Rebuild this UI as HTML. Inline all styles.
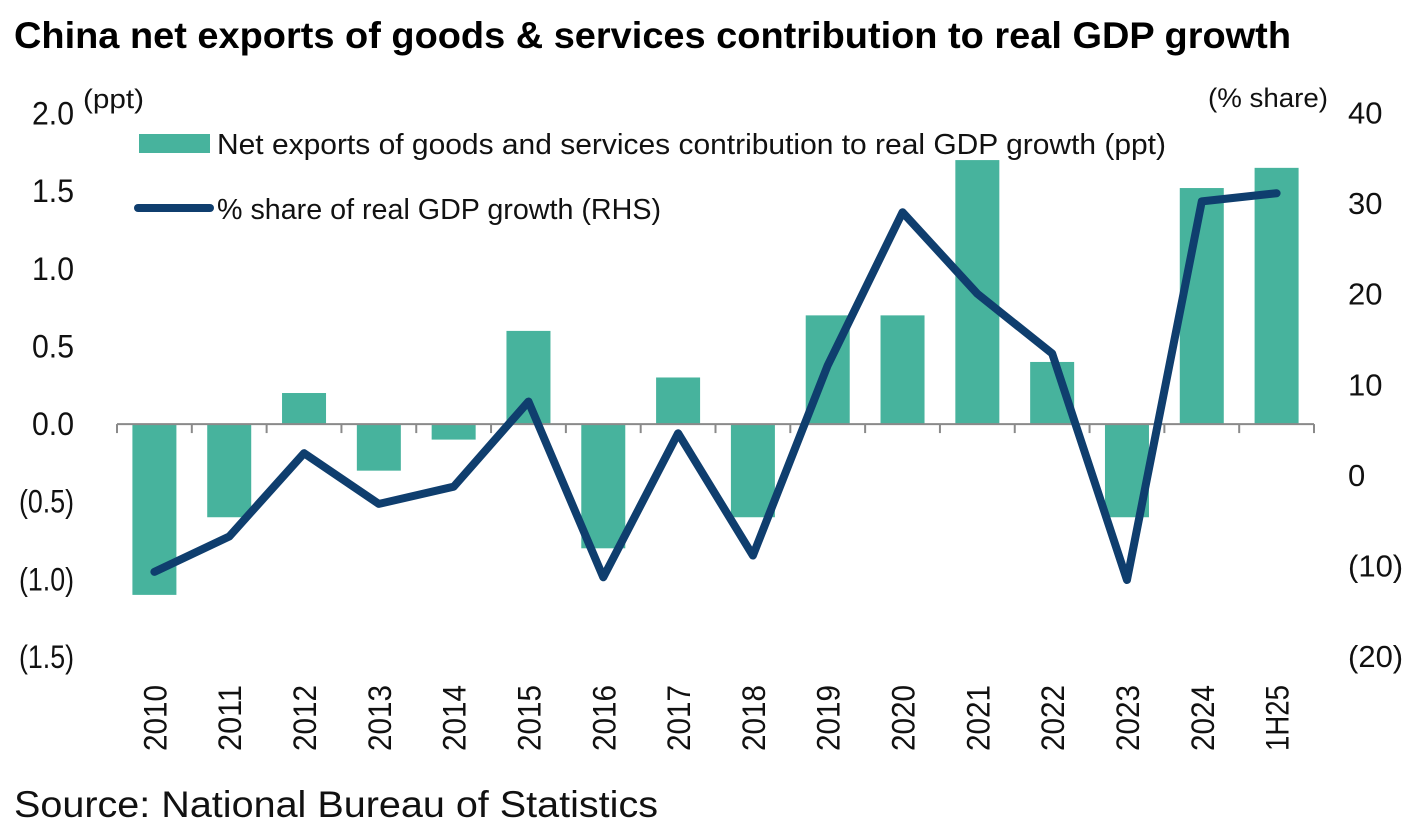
<!DOCTYPE html>
<html>
<head>
<meta charset="utf-8">
<style>
html,body{margin:0;padding:0;background:#fff;width:1406px;height:829px;overflow:hidden}
svg{display:block}
text{font-family:"Liberation Sans",sans-serif;fill:#111}
</style>
</head>
<body>
<svg id="chart" width="1406" height="829" viewBox="0 0 1406 829" xmlns="http://www.w3.org/2000/svg">
<text x="14" y="48" font-size="37" font-weight="700" textLength="1277" lengthAdjust="spacingAndGlyphs" style="fill:#000">China net exports of goods &amp; services contribution to real GDP growth</text>
<text x="83" y="108" font-size="27" textLength="61" lengthAdjust="spacingAndGlyphs">(ppt)</text>
<text x="1208" y="107" font-size="27" textLength="120" lengthAdjust="spacingAndGlyphs">(% share)</text>
<g id="bars"></g>
<g id="axis"></g>
<g id="left-ticks"></g>
<g id="right-ticks"></g>
<g id="line"></g>
<rect x="139" y="134" width="71" height="19" fill="#47b39d"/>
<text x="217" y="154" font-size="29" textLength="949" lengthAdjust="spacingAndGlyphs">Net exports of goods and services contribution to real GDP growth (ppt)</text>
<line x1="138" y1="208" x2="210" y2="208" stroke="#0f3e6e" stroke-width="8" stroke-linecap="round"/>
<text x="217" y="219" font-size="29" textLength="444" lengthAdjust="spacingAndGlyphs">% share of real GDP growth (RHS)</text>
<text x="14" y="817" font-size="37" textLength="644" lengthAdjust="spacingAndGlyphs">Source: National Bureau of Statistics</text>
</svg>
<script>
var categories = ['2010','2011','2012','2013','2014','2015','2016','2017','2018','2019','2020','2021','2022','2023','2024','1H25'];
var netExports = [-1.1,-0.6,0.2,-0.3,-0.1,0.6,-0.8,0.3,-0.6,0.7,0.7,1.7,0.4,-0.6,1.52,1.65];
var shareOfGrowth = [-10.6,-6.7,2.5,-3.1,-1.2,8.2,-11.2,4.7,-8.8,12.2,29.1,20.1,13.5,-11.5,30.3,31.2];
var leftTicks = [2,1.5,1,0.5,0,-0.5,-1,-1.5];
var rightTicks = [40,30,20,10,0,-10,-20];

var NS = 'http://www.w3.org/2000/svg';
var plotLeft = 117, plotRight = 1314, plotTop = 113.5, plotBottom = 657;
function xBand(i){ return plotLeft + (plotRight - plotLeft) / categories.length * i; }
function xCenter(i){ return xBand(i + 0.5); }
function yLeft(v){ return plotTop + (2 - v) / 3.5 * (plotBottom - plotTop); }
function yRight(v){ return plotTop + (40 - v) / 60 * (plotBottom - plotTop); }
function fmtLeft(v){ var s = Math.abs(v).toFixed(1); return v < 0 ? '(' + s + ')' : s; }
function fmtRight(v){ return v < 0 ? '(' + Math.abs(v) + ')' : String(v); }
function mk(tag, attrs, parent){
  var el = document.createElementNS(NS, tag);
  for (var k in attrs) el.setAttribute(k, attrs[k]);
  parent.appendChild(el);
  return el;
}

var barsG = document.getElementById('bars');
netExports.forEach(function(v, i){
  var y0 = yLeft(0), y1 = yLeft(v);
  var r = mk('rect', {x: xCenter(i) - 22, y: Math.min(y0, y1), width: 44, height: Math.abs(y1 - y0), fill: '#47b39d'}, barsG);
  
  
});

var axisG = document.getElementById('axis');
var base = mk('line', {x1: plotLeft, x2: plotRight, y1: yLeft(0), y2: yLeft(0), stroke: '#8a8a8a', 'stroke-width': 2}, axisG);


for (var t = 0; t <= categories.length; t++) {
  var tick = mk('line', {x1: xBand(t), x2: xBand(t), y1: yLeft(0), y2: yLeft(0) + 9, stroke: '#8a8a8a', 'stroke-width': 2}, axisG);
  
  
}
categories.forEach(function(c, i){
  var cx = xCenter(i) + 12, cy = 751;
  var lab = mk('text', {x: cx, y: cy, 'font-size': 32, textLength: 66, lengthAdjust: 'spacingAndGlyphs', transform: 'rotate(-90 ' + cx + ' ' + cy + ')'}, axisG);
  lab.textContent = c;
  
  
});

var leftG = document.getElementById('left-ticks');
leftTicks.forEach(function(v){
  var s = fmtLeft(v);
  var lab = mk('text', {x: 74, y: yLeft(v) + 11, 'font-size': 32, 'text-anchor': 'end', textLength: s.length > 3 ? 55 : 42, lengthAdjust: 'spacingAndGlyphs'}, leftG);
  lab.textContent = s;
  
  
});

var rightG = document.getElementById('right-ticks');
rightTicks.forEach(function(v){
  var lab = mk('text', {x: 1348, y: yRight(v) + 10, 'font-size': 31}, rightG);
  lab.textContent = fmtRight(v);
  
  
});

var lineG = document.getElementById('line');
var pts = shareOfGrowth.map(function(v, i){ return xCenter(i) + ',' + yRight(v); }).join(' ');
var pl = mk('polyline', {points: pts, fill: 'none', stroke: '#0f3e6e', 'stroke-width': 8, 'stroke-linejoin': 'round', 'stroke-linecap': 'round'}, lineG);


</script>
</body>
</html>
